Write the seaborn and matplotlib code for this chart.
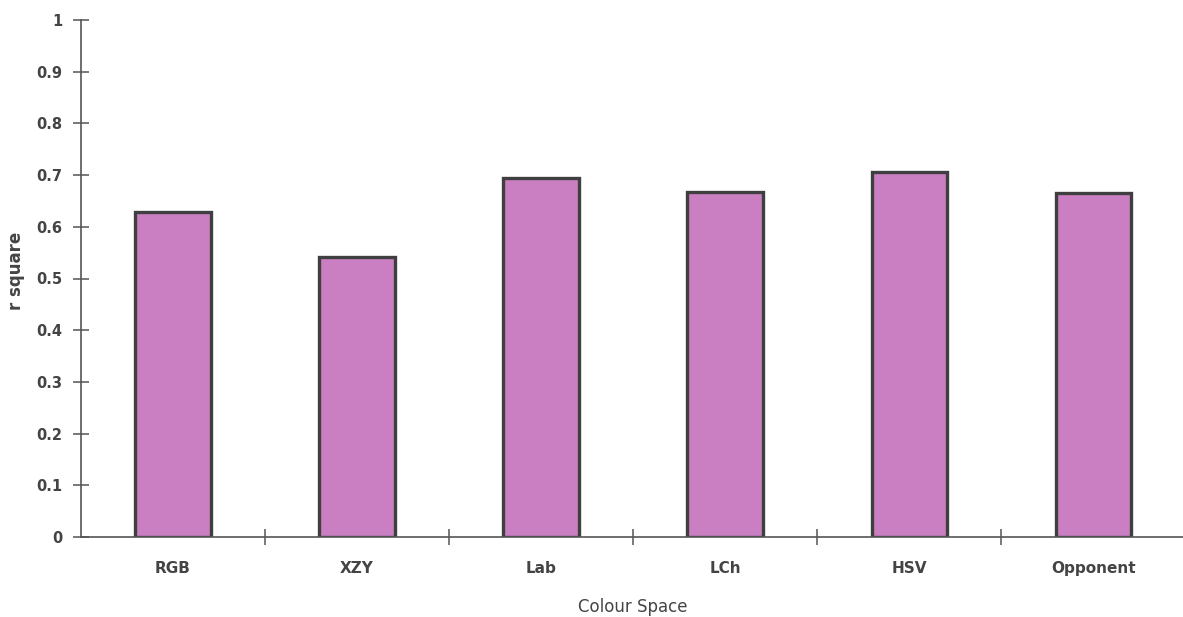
import matplotlib
matplotlib.use("Agg")
import matplotlib.pyplot as plt
import numpy as np
import pandas as pd
import seaborn as sns

# r-square of each colour space
spaces = ["RGB", "XZY", "Lab", "LCh", "HSV", "Opponent"]
r_square = [0.629, 0.542, 0.695, 0.668, 0.706, 0.665]
y_ticks = [0, 0.1, 0.2, 0.3, 0.4, 0.5, 0.6, 0.7, 0.8, 0.9, 1]
y_tick_labels = ["0", "0.1", "0.2", "0.3", "0.4", "0.5", "0.6", "0.7", "0.8", "0.9", "1"]

df = pd.DataFrame({"space": spaces, "r2": r_square})

sns.set_theme(style="white")
plt.rcParams["font.family"] = ["DejaVu Sans"]

fig = plt.figure(figsize=(11.83, 6.17), dpi=100)
ax = fig.add_axes([81 / 1183, 80 / 617, 1 - 81 / 1183 + 0.002, 517 / 617])

sns.barplot(data=df, x="space", y="r2", order=spaces, color="#ca7fc2",
            saturation=1, width=0.41, edgecolor="#3f3f3f", linewidth=2.4, ax=ax)

ax.set_xlim(-0.5, len(spaces) - 0.5)
ax.set_ylim(0, 1)

for side in ["top", "right"]:
    ax.spines[side].set_visible(False)
for side in ["left", "bottom"]:
    ax.spines[side].set_color("#555555")
    ax.spines[side].set_linewidth(1.2)

ax.set_yticks(y_ticks)
ax.set_yticklabels(y_tick_labels, fontsize=10.5, fontweight="bold", color="#444444")
ax.tick_params(axis="y", direction="inout", length=11, width=1.1, color="#555555", pad=8, left=True)

# category labels centred, tick marks on category boundaries
ax.set_xticks(range(len(spaces)))
ax.set_xticklabels(spaces, fontsize=11, fontweight="bold", color="#444444")
ax.tick_params(axis="x", which="major", length=0, pad=17)
ax.set_xticks(np.arange(0.5, len(spaces) - 0.5, 1.0), minor=True)
ax.tick_params(axis="x", which="minor", direction="inout", length=11, width=1.1,
               color="#555555", bottom=True)

ax.set_xlabel("Colour Space", fontsize=12, color="#444444", labelpad=16)
ax.set_ylabel("r square", fontsize=12, fontweight="semibold", color="#444444")
ax.yaxis.set_label_coords(-0.051, 0.515)

fig.savefig("out.png", dpi=100)
